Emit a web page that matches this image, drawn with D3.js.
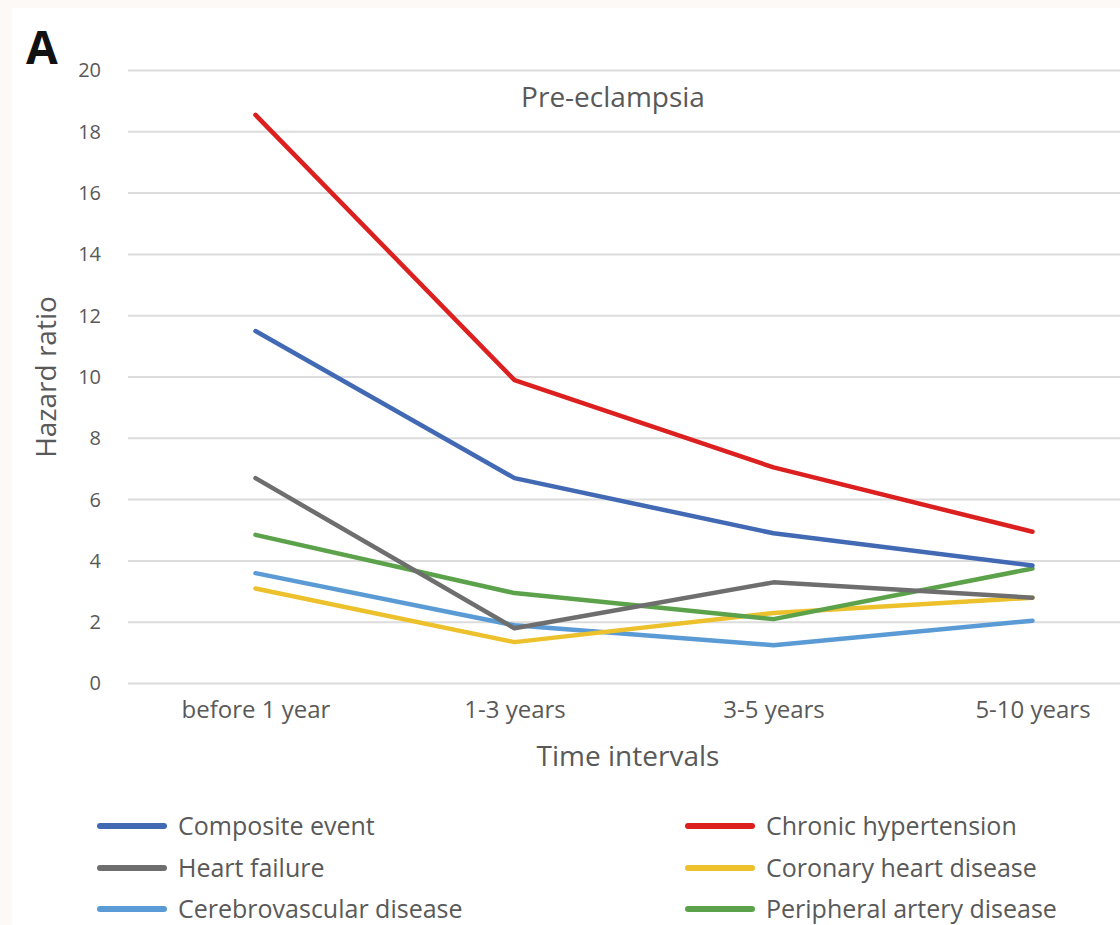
<!DOCTYPE html>
<html><head><meta charset="utf-8">
<script src="https://cdn.jsdelivr.net/npm/d3@7"></script>
<style>
body{margin:0;background:#fdf9f6;}
svg{display:block;}
text{font-family:"Open Sans",Lato,sans-serif;}
</style></head>
<body>
<svg id="chart" width="1120" height="925"></svg>
<script>
const categories = ["before 1 year","1-3 years","3-5 years","5-10 years"];
const seriesNames = ["Composite event","Chronic hypertension","Heart failure","Coronary heart disease","Cerebrovascular disease","Peripheral artery disease"];
const compositeEvent = [11.5, 6.7, 4.9, 3.85];
const chronicHypertension = [18.55, 9.9, 7.05, 4.95];
const heartFailure = [6.7, 1.8, 3.3, 2.8];
const coronaryHeartDisease = [3.1, 1.35, 2.3, 2.8];
const cerebrovascularDisease = [3.6, 1.9, 1.25, 2.05];
const peripheralArteryDisease = [4.85, 2.95, 2.1, 3.75];
const yTicks = [0,2,4,6,8,10,12,14,16,18,20];
const colors = ["#4169b4","#dc1f1f","#6e6e6e","#ecc12c","#5a9bd5","#5ba24a"];
const seriesValues = [compositeEvent, chronicHypertension, heartFailure, coronaryHeartDisease, cerebrovascularDisease, peripheralArteryDisease];

const svg = d3.select("#chart");
svg.append("rect").attr("x",12).attr("y",8).attr("width",1108).attr("height",917).attr("fill","#ffffff");

const x = d3.scalePoint().domain(categories).range([126,1162]).padding(0.5);
const y = d3.scaleLinear().domain([0,20]).range([683.5,70.5]);

// gridlines
svg.append("g").selectAll("line").data(yTicks).join("line")
  .attr("x1",128).attr("x2",1162)
  .attr("y1",d=>y(d)).attr("y2",d=>y(d))
  .attr("stroke","#dcdcdc").attr("stroke-width",2);

// y axis labels
const yAxis = d3.axisLeft(y).tickValues(yTicks).tickSize(0).tickPadding(0);
const gy = svg.append("g").attr("transform","translate(101,0)").call(yAxis);
gy.select(".domain").remove();
gy.selectAll("text").attr("font-size",20).attr("fill","#595959").attr("font-family","Open Sans, sans-serif");

// x axis labels
const xAxis = d3.axisBottom(x).tickSize(0).tickPadding(0);
const gx = svg.append("g").attr("transform","translate(0,701)").call(xAxis);
gx.select(".domain").remove();
gx.selectAll("text").attr("font-size",24).attr("fill","#595959").attr("font-family","Open Sans, sans-serif");

// lines
const line = d3.line().x((d,i)=>x(categories[i])).y(d=>y(d));
const order = [4,3,5,2,0,1];
svg.append("g").selectAll("path").data(order).join("path")
  .attr("d",i=>line(seriesValues[i]))
  .attr("fill","none").attr("stroke",i=>colors[i])
  .attr("stroke-width",4.5).attr("stroke-linejoin","round").attr("stroke-linecap","round");

// titles
svg.append("text").attr("x",613).attr("y",107).attr("text-anchor","middle")
  .attr("font-size",28).attr("fill","#595959").text("Pre-eclampsia");
svg.append("text").attr("x",628).attr("y",766).attr("text-anchor","middle")
  .attr("font-size",28).attr("fill","#595959").text("Time intervals");
svg.append("text").attr("transform","translate(56,377) rotate(-90)").attr("text-anchor","middle")
  .attr("font-size",28).attr("fill","#595959").text("Hazard ratio");
svg.append("text").attr("x",26).attr("y",64)
  .attr("font-size",46).attr("font-weight","bold").attr("fill","#111").attr("font-family","Liberation Sans, Arial, sans-serif").text("A");

// legend
const legendPos = [[100,826],[688,826],[100,868],[688,868],[100,909],[688,909]];
const lg = svg.append("g").selectAll("g").data(seriesNames).join("g")
  .attr("transform",(d,i)=>`translate(${legendPos[i][0]},${legendPos[i][1]})`);
lg.append("line").attr("x1",0).attr("x2",64).attr("y1",0).attr("y2",0)
  .attr("stroke",(d,i)=>colors[i]).attr("stroke-width",6).attr("stroke-linecap","round");
lg.append("text").attr("x",78).attr("y",9).attr("font-size",25).attr("fill","#595959").text(d=>d);
</script>
</body></html>
